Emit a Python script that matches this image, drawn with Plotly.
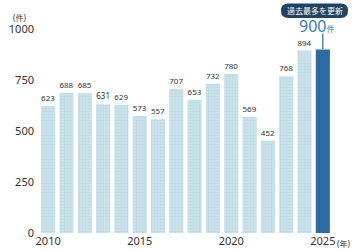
import plotly.graph_objects as go

years = list(range(2010, 2026))
values = [623, 688, 685, 631, 629, 573, 557, 707, 653, 732, 780, 569, 452, 768, 894, 900]
tick_vals = [2010, 2015, 2020, 2025]
tick_text = ["2010", "2015", "2020", "2025"]
y_ticks = [0, 250, 500, 750, 1000]

LIGHT = "#c8e3ec"
DARK = "#2d69a3"
colors = [LIGHT] * (len(years) - 1) + [DARK]
labels = [str(v) for v in values[:-1]] + [""]

FONT = "Noto Sans, Noto Sans CJK JP, sans-serif"

fig = go.Figure()
fig.add_trace(go.Bar(
    x=years, y=values,
    marker=dict(color=colors, line=dict(width=0),
                pattern=dict(shape=["+"] * (len(years) - 1) + [""],
                             fgcolor="#b4d6e2", fgopacity=0.25, size=3, solidity=0.1)),
    text=labels, textposition="outside",
    textfont=dict(size=8, color="#333333", family=FONT),
    cliponaxis=False, hoverinfo="skip",
))

W, H = 360, 251
L, R, T, B = 39, 28, 29, 18
pw, ph = W - L - R, H - T - B

def px(x):
    return (x - L) / pw

def py(y):
    return (H - B - y) / ph

# rounded badge
x0, x1, y0, y1 = 281, 348, 3.5, 18
r = 7.25
path = (f"M {px(x0 + r)} {py(y0)} L {px(x1 - r)} {py(y0)} "
        f"Q {px(x1)} {py(y0)} {px(x1)} {py(y0 + r)} "
        f"Q {px(x1)} {py(y1)} {px(x1 - r)} {py(y1)} "
        f"L {px(x0 + r)} {py(y1)} "
        f"Q {px(x0)} {py(y1)} {px(x0)} {py(y1 - r)} "
        f"Q {px(x0)} {py(y0)} {px(x0 + r)} {py(y0)} Z")
fig.add_shape(type="path", path=path, xref="paper", yref="paper",
              fillcolor="#1f4363", line=dict(width=0), layer="below")

fig.add_shape(type="line", xref="x", yref="y", x0=2025, x1=2025, y0=902, y1=978,
              line=dict(color="#2d69a3", width=1.2))

fig.update_layout(
    width=W, height=H,
    margin=dict(l=L, r=R, t=T, b=B, autoexpand=False),
    paper_bgcolor="white", plot_bgcolor="white",
    showlegend=False, bargap=0.23,
    font=dict(family=FONT, color="#333333"),
    xaxis=dict(range=[2009.5, 2025.5], tickvals=tick_vals, ticktext=tick_text,
               showgrid=False, zeroline=False, showline=False, ticks="",
               tickfont=dict(size=11, color="#333333"), ticklabelstandoff=0,
               automargin=False),
    yaxis=dict(range=[0, 1000], tickvals=y_ticks, showgrid=False, zeroline=False,
               showline=False, ticks="", tickfont=dict(size=11, color="#333333"),
               ticklabelstandoff=4, automargin=False),
    annotations=[
        dict(text="(件)", xref="paper", yref="paper", x=px(19), y=py(18),
             xanchor="center", yanchor="middle",
             showarrow=False, font=dict(size=8, color="#333333")),
        dict(text="(年)", xref="paper", yref="paper", x=px(335), y=py(243),
             xanchor="left", yanchor="middle", showarrow=False,
             font=dict(size=8, color="#333333")),
        dict(text="過去最多を更新", xref="paper", yref="paper", x=px(314.5), y=py(10.75),
             xanchor="center", yanchor="middle",
             showarrow=False, font=dict(size=8, color="white",
                                         family="Noto Sans CJK JP")),
        dict(text="900<span style='font-size:8px'>件</span>", xref="paper", yref="paper",
             x=px(316), y=py(26), xanchor="center", yanchor="middle", showarrow=False,
             font=dict(size=16, color="#3a7bbd")),
    ],
)

fig.write_html("out.html")
